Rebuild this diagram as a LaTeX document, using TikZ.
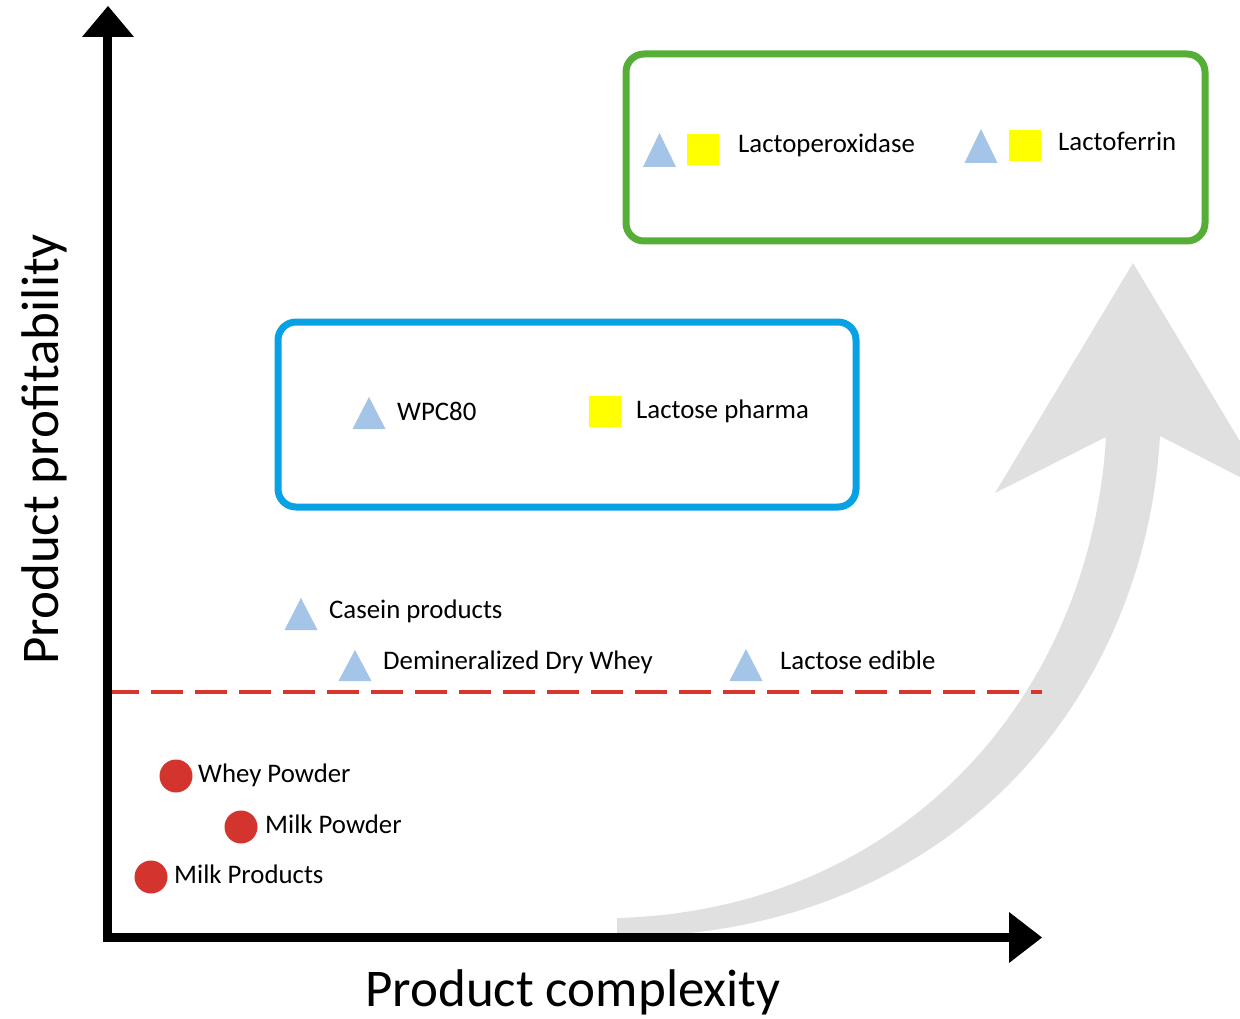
\documentclass[tikz,border=0pt]{standalone}
\usepackage{fontspec}
\setmainfont{Carlito}
\definecolor{arrgray}{RGB}{224,224,224}
\definecolor{trib}{RGB}{164,196,232}
\definecolor{dotred}{RGB}{212,52,46}
\definecolor{dashred}{RGB}{214,54,44}
\definecolor{boxgreen}{RGB}{85,174,54}
\definecolor{boxblue}{RGB}{8,162,228}
\definecolor{sqyellow}{RGB}{255,255,0}
\begin{document}
\begin{tikzpicture}[x=1pt,y=-1pt,
  lbl/.style={anchor=base west,inner sep=0pt,font=\fontsize{26.8}{30}\selectfont},
  axlbl/.style={anchor=base west,inner sep=0pt,font=\fontsize{53}{60}\selectfont},
  sq/.style={rectangle,fill=sqyellow,minimum width=32pt,minimum height=31pt,inner sep=0pt},
  dot/.style={circle,fill=dotred,minimum size=33pt,inner sep=0pt},
  trifill/.style={fill=trib},
  grp/.style={line width=7pt,rounded corners=18pt}]
\useasboundingbox (0,0) rectangle (1240,1019);
\newcommand\mytri[3]{\fill[trifill] (#1-16.5,#3) -- (#1+16.5,#3) -- (#1,#2) -- cycle;}
% big gray curved arrow
\fill[arrgray] (617,918) .. controls (900,910) and (1090,700) .. (1106,437)
  -- (995,493) -- (1133,263) -- (1271,493) -- (1160,436)
  .. controls (1145,700) and (950,937) .. (617,937) -- cycle;
% boxes
\draw[grp,boxgreen] (626,54) rectangle (1205,241);
\draw[grp,boxblue] (278,322) rectangle (856,507);
% dashed threshold
\coordinate (d1) at (107,692);
\coordinate (d2) at (1042,692);
\draw[dashred,line width=4.5pt,dash pattern=on 32pt off 12pt] (d1) -- (d2);
% axes
\coordinate (o) at (107,937);
\coordinate (ytop) at (107,37);
\coordinate (xend) at (1010,937);
\draw[line width=9pt] (107,941.5) -- (ytop);
\draw[line width=9pt] (103,937) -- (xend);
\fill (82,37) -- (108,6) -- (134,37) -- cycle;
\fill (1009,912) -- (1042,937.5) -- (1009,963) -- cycle;
\node[axlbl,rotate=90] (ylab) at (58,665) {Product profitability};
\node[axlbl] (xlab) at (365,1006) {Product complexity};
% top group
\mytri{659.5}{133}{167}
\node[sq] (s1) at (703,150) {};
\node[lbl] (lp) at (738,153) {Lactoperoxidase};
\mytri{981}{129}{163}
\node[sq] (s2) at (1025,146) {};
\node[lbl] (lf) at (1058,151) {Lactoferrin};
% middle group
\mytri{369}{397}{429}
\node[lbl] (wpc) at (397,420) {WPC80};
\node[sq] (s3) at (605,411.5) {};
\node[lbl] (lph) at (636,418) {Lactose pharma};
% others
\mytri{301}{598}{630}
\node[lbl] (cas) at (329,618) {Casein products};
\mytri{355}{650}{681}
\node[lbl] (ddw) at (383,669) {Demineralized Dry Whey};
\mytri{746}{649}{681}
\node[lbl] (led) at (780,669) {Lactose edible};
% commodity
\node[dot] (c1) at (176,776) {};
\node[lbl] (wp) at (198,782) {Whey Powder};
\node[dot] (c2) at (241,827) {};
\node[lbl] (mp) at (265,833) {Milk Powder};
\node[dot] (c3) at (151,877) {};
\node[lbl] (mpr) at (174,883) {Milk Products};
\end{tikzpicture}
\end{document}
